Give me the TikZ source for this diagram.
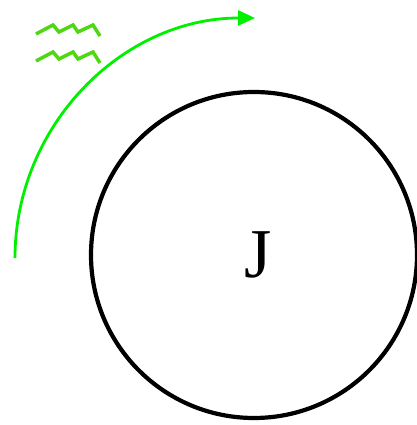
\documentclass[tikz,border=0pt]{standalone}
\usepackage{fontspec}
\setmainfont{Liberation Serif}
\usetikzlibrary{arrows.meta}
\definecolor{arcgreen}{RGB}{0,240,0}
\definecolor{zzgreen}{RGB}{80,215,20}
\tikzset{
  wheel/.style={draw=black, line width=4.2pt},
  motion/.style={draw=arcgreen, line width=2.8pt, -{Triangle[length=17pt,width=15pt]}},
  zz/.style={draw=zzgreen, line width=3.5pt, line join=miter},
}
\begin{document}
\begin{tikzpicture}[x=1pt,y=1pt]
\useasboundingbox (0,0) rectangle (416,425);
\node[circle, wheel, minimum size=326pt, inner sep=0pt] (wheel) at (254,170) {};
\node[font=\fontsize{70}{74}\selectfont, inner sep=0pt] (J) at (258,170) {J};
\coordinate (arcstart) at (15,167);
\draw[motion] (arcstart) arc[start angle=180, end angle=90, radius=240];
\draw[zz] (36,391) -- (53,400) -- (59,393) -- (73,400) -- (78,393) -- (93,400) -- (100,389);
\draw[zz] (36,364) -- (53,373) -- (59,366) -- (73,373) -- (78,366) -- (93,373) -- (100,362);
\end{tikzpicture}
\end{document}
